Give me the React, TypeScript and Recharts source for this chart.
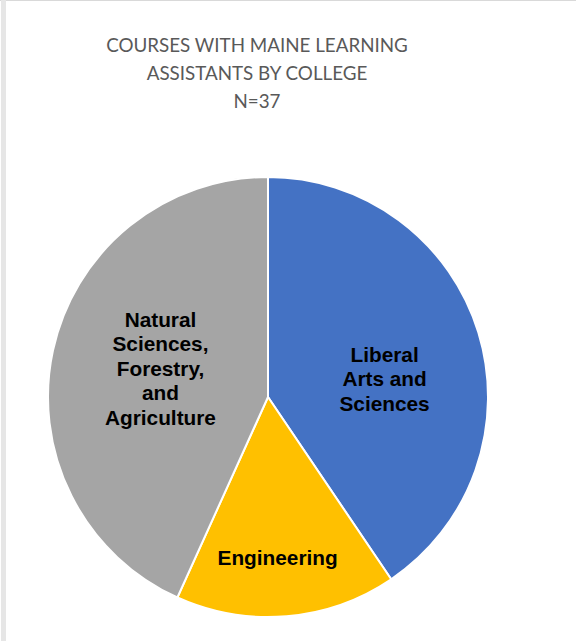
import { PieChart, Pie, Cell } from 'recharts'

// ── Data ─────────────────────────────────────────────────────────────
const COLLEGES = ['Liberal Arts and Sciences', 'Engineering', 'Natural Sciences, Forestry, and Agriculture']
const COURSES = [15, 6, 16]
const LABEL_LINES = [
  ['Liberal', 'Arts and', 'Sciences'],
  ['Engineering'],
  ['Natural', 'Sciences,', 'Forestry,', 'and', 'Agriculture'],
]
const TITLE_LINES = ['COURSES WITH MAINE LEARNING', 'ASSISTANTS BY COLLEGE', 'N=37']

const COLORS = ['#4472C4', '#FFC000', '#A5A5A5']

// label placement (Excel "best fit" style), per slice
const LABEL_PLACE = [
  { r: 0.54, dx: 3, dy: 16 },
  { r: 0.73, dx: -4, dy: 0 },
  { r: 0.5, dx: 0, dy: -6 },
]

const data = COLLEGES.map((name, i) => ({ name, value: COURSES[i], lines: LABEL_LINES[i] }))

const RAD = Math.PI / 180
const LINE_H = 24.5

function SliceLabel(props: any) {
  const { cx, cy, midAngle, outerRadius, index } = props
  const place = LABEL_PLACE[index]
  const r = outerRadius * place.r
  const x = cx + r * Math.cos(-midAngle * RAD) + place.dx
  const y = cy + r * Math.sin(-midAngle * RAD) + place.dy
  const lines: string[] = data[index].lines
  const top = y - ((lines.length - 1) * LINE_H) / 2
  return (
    <text
      x={x}
      y={top}
      textAnchor="middle"
      dominantBaseline="central"
      fill="#000"
      fontFamily="'Liberation Sans', Arial, sans-serif"
      fontWeight={700}
      fontSize={20.8}
    >
      {lines.map((l, i) => (
        <tspan key={i} x={x} y={top + i * LINE_H}>{l}</tspan>
      ))}
    </text>
  )
}

export default function App() {
  return (
    <div style={{
      position: 'absolute',
      left: 0,
      top: 0,
      width: 576,
      height: 641,
      background: '#fff',
      overflow: 'hidden',
    }}>
      {/* frame edges */}
      <div style={{ position: 'absolute', left: 0, top: 0, width: 576, height: 1, background: '#d9d9d9' }} />
      <div style={{ position: 'absolute', left: 1, top: 0, width: 5, height: 641, background: '#e6e6e6' }} />

      {/* Title */}
      <div style={{
        position: 'absolute',
        left: 0,
        top: 31,
        width: 514,
        textAlign: 'center',
        fontFamily: 'Lato, "Open Sans", sans-serif',
        fontSize: 18.8,
        lineHeight: '28px',
        color: '#595959',
      }}>
        {TITLE_LINES.map((t) => <div key={t}>{t}</div>)}
      </div>

      <PieChart width={576} height={641} margin={{ top: 0, right: 0, bottom: 0, left: 0 }} style={{ position: 'absolute', left: 0, top: 0 }}>
        <Pie
          data={data}
          dataKey="value"
          nameKey="name"
          cx={268}
          cy={397}
          outerRadius={220}
          startAngle={90}
          endAngle={-270}
          stroke="#fff"
          strokeWidth={2}
          label={SliceLabel}
          labelLine={false}
          isAnimationActive={false}
        >
          {data.map((d, i) => (
            <Cell key={d.name} fill={COLORS[i]} />
          ))}
        </Pie>
      </PieChart>
    </div>
  )
}
